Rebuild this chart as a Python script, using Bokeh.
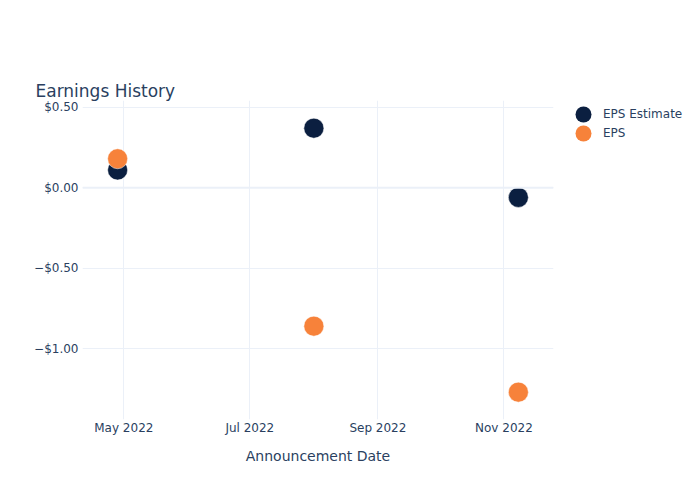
from datetime import datetime
from bokeh.plotting import figure
from bokeh.layouts import row
from bokeh.models import (ColumnDataSource, FixedTicker, CustomJSTickFormatter,
                          DatetimeTickFormatter, Range1d, Span, Legend, LegendItem,
                          LinearAxis)
from bokeh.embed import file_html
from bokeh.resources import INLINE

dates = ["2022-04-28", "2022-08-01", "2022-11-08"]
eps_estimate = [0.11, 0.37, -0.06]
eps_actual = [0.18, -0.86, -1.27]
y_ticks = [0.5, 0.0, -0.5, -1.0]
x_tick_dates = ["2022-05-01", "2022-07-01", "2022-09-01", "2022-11-01"]
series_names = ["EPS Estimate", "EPS"]

def ms(s):
    return datetime.strptime(s, "%Y-%m-%d").timestamp() * 1000.0

FONT = "DejaVu Sans"
TXT = "#2a3f5f"
NAVY = "#0b1f40"
ORANGE = "#f7823a"
GRID = "#ebf0f8"

xs = [datetime.strptime(d, "%Y-%m-%d") for d in dates]
src = ColumnDataSource(dict(x=xs, est=eps_estimate, eps=eps_actual))

p = figure(width=560, height=500, x_axis_type="datetime",
           output_backend="svg", toolbar_location=None,
           min_border_left=82, min_border_right=7,
           min_border_top=100, min_border_bottom=81)
p.x_range = Range1d(ms("2022-04-11"), ms("2022-11-25"))
p.y_range = Range1d(-1.44, 0.542)

p.outline_line_color = None
p.background_fill_color = "white"
p.border_fill_color = "white"

# empty spacer above the plot area so the title sits higher
top_spacer = LinearAxis(ticker=FixedTicker(ticks=[]), axis_line_color=None,
                        major_tick_line_color=None, minor_tick_line_color=None,
                        major_tick_out=45, major_tick_in=0, minor_tick_out=0,
                        minor_tick_in=0, major_label_standoff=0)
p.add_layout(top_spacer, "above")

p.title.text = "Earnings History"
p.title.text_font = FONT
p.title.text_font_size = "17px"
p.title.text_font_style = "normal"
p.title.text_color = TXT
p.title.align = "left"
p.title.offset = -47
p.title.standoff = 0

p.xaxis.ticker = FixedTicker(ticks=[ms(d) for d in x_tick_dates])
p.below[0].formatter = DatetimeTickFormatter(months="%b %Y", days="%b %Y", years="%b %Y")
p.yaxis.ticker = FixedTicker(ticks=y_ticks)
p.yaxis.formatter = CustomJSTickFormatter(code="""
    const s = '$' + Math.abs(tick).toFixed(2);
    return tick < 0 ? '\u2212' + s : s;
""")
xax = p.below[0]
for ax in (xax, p.yaxis[0]):
    ax.axis_line_color = None
    ax.major_tick_line_color = None
    ax.minor_tick_line_color = None
    ax.major_tick_out = 0
    ax.major_tick_in = 0
    ax.minor_tick_out = 0
    ax.minor_tick_in = 0
    ax.major_label_text_font = FONT
    ax.major_label_text_font_size = "12px"
    ax.major_label_text_color = TXT
xax.ticker = FixedTicker(ticks=[ms(d) for d in x_tick_dates])
xax.major_label_standoff = 1
p.yaxis.major_label_standoff = 4
xax.axis_label = "Announcement Date"
xax.axis_label_text_font = FONT
xax.axis_label_text_font_size = "14px"
xax.axis_label_text_font_style = "normal"
xax.axis_label_text_color = TXT
xax.axis_label_standoff = 10
top_spacer.ticker = FixedTicker(ticks=[])

p.xgrid.grid_line_color = GRID
p.ygrid.grid_line_color = GRID
p.xgrid.grid_line_width = 1
p.ygrid.grid_line_width = 1
p.add_layout(Span(location=0, dimension="width", line_color=GRID, line_width=2))

p.scatter("x", "est", source=src, size=20, color=NAVY, line_color="white", line_width=0.5)
p.scatter("x", "eps", source=src, size=20, color=ORANGE, line_color="white", line_width=0.5)

# legend panel to the right of the plot (its frame is aligned with the plot's)
lf = figure(width=140, height=500, output_backend="svg", toolbar_location=None,
            x_range=Range1d(0, 140), y_range=Range1d(0, 500),
            x_axis_location=None, y_axis_location=None,
            min_border=0)
lf.outline_line_color = None
lf.xgrid.visible = False
lf.ygrid.visible = False
lf.border_fill_color = "white"

nan = float("nan")
dummy = ColumnDataSource(dict(x=[nan], y=[nan]))
leg_est = lf.scatter("x", "y", source=dummy, size=16, color=NAVY, line_color=None)
leg_eps = lf.scatter("x", "y", source=dummy, size=16, color=ORANGE, line_color=None)

def one_item_legend(label, rend, loc):
    return Legend(items=[LegendItem(label=label, renderers=[rend])],
                  location=loc, margin=0, padding=0, spacing=0,
                  glyph_width=40, glyph_height=40, label_height=16,
                  label_standoff=0, border_line_color=None,
                  background_fill_alpha=0,
                  label_text_font=FONT, label_text_font_size="12px",
                  label_text_color=TXT)

lf.add_layout(one_item_legend(series_names[0], leg_est, (3, 285)), "center")
lf.add_layout(one_item_legend(series_names[1], leg_eps, (3, 266)), "center")

layout = row(p, lf)
open("out.html", "w").write(file_html(layout, INLINE))
